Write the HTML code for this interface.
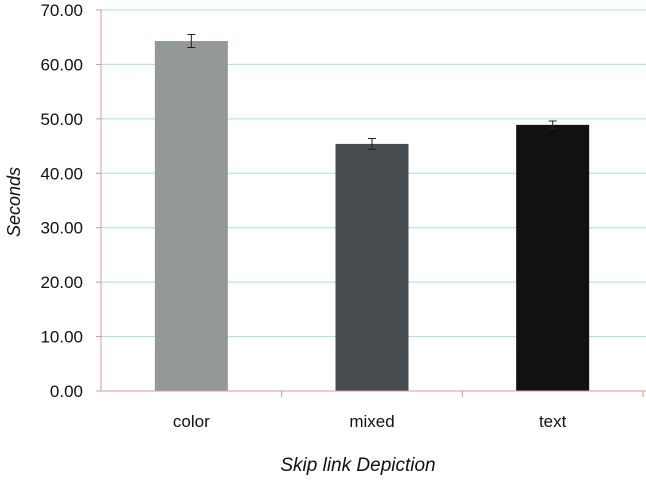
<!DOCTYPE html>
<html><head><meta charset="utf-8"><style>
body{margin:0;background:#fff;}
svg{display:block;font-family:"Liberation Sans",Arial,sans-serif;}
</style></head><body>
<svg id="chart" width="646" height="480"></svg>
<script>
const categories=["color","mixed","text"];
const values=[64.3,45.4,48.9];
const errors=[1.2,1.0,0.7];
const colors=["#939998","#474c51","#111110"];
const yTicks=[0,10,20,30,40,50,60,70];
const yTickLabels=["0.00","10.00","20.00","30.00","40.00","50.00","60.00","70.00"];
const NS="http://www.w3.org/2000/svg";
const svg=document.getElementById("chart");
const x0=101,x1=646,y0=391,y1=10,yMax=70;
const catW=(643-x0)/categories.length;
function y(v){return y0-(v/yMax)*(y0-y1);}
function xc(i){return x0+catW*(i+0.5);}
function mk(t,a,txt){const e=document.createElementNS(NS,t);for(const k in a)e.setAttribute(k,a[k]);if(txt!=null)e.textContent=txt;svg.appendChild(e);return e;}
yTicks.forEach((v,i)=>{
  if(v>0){const g=mk("line",{x1:x0,x2:x1,y1:y(v),y2:y(v),stroke:"#a9dbe9","stroke-width":1});
  
  }
  const tk=mk("line",{x1:x0-5,x2:x0,y1:y(v),y2:y(v),stroke:"#c99","stroke-width":1});
  
  
  const t=mk("text",{x:83,y:y(v)+6,"text-anchor":"end","font-size":17,fill:"#111"},yTickLabels[i]);
  
  
});
categories.forEach((c,i)=>{
  const bw=73,cx=xc(i);
  const b=mk("rect",{x:cx-bw/2,y:y(values[i]),width:bw,height:y0-y(values[i]),fill:colors[i]});
  
  
  const hi=y(values[i]+errors[i]),lo=y(values[i]-errors[i]);
  const e=mk("path",{d:`M${cx} ${hi}V${lo}M${cx-4} ${hi}H${cx+4}M${cx-4} ${lo}H${cx+4}`,stroke:"#222","stroke-width":1,fill:"none"});
  
  
  const l=mk("text",{x:cx,y:427,"text-anchor":"middle","font-size":17,fill:"#111"},c);
  
  
  const tk=mk("line",{x1:x0+catW*(i+1),x2:x0+catW*(i+1),y1:y0,y2:y0+6,stroke:"#c99"});
  
  
});
const ya=mk("line",{x1:x0,x2:x0,y1:y1,y2:y0,stroke:"#d49a9a"});


const xa=mk("line",{x1:x0-5,x2:x1,y1:y0,y2:y0,stroke:"#d49a9a"});


const yt=mk("text",{x:0,y:0,transform:"translate(20,202) rotate(-90)","text-anchor":"middle","font-size":18,"font-style":"italic",fill:"#111"},"Seconds");


const xt=mk("text",{x:358,y:471,"text-anchor":"middle","font-size":19,"font-style":"italic",fill:"#111"},"Skip link Depiction");


</script>
</body></html>
